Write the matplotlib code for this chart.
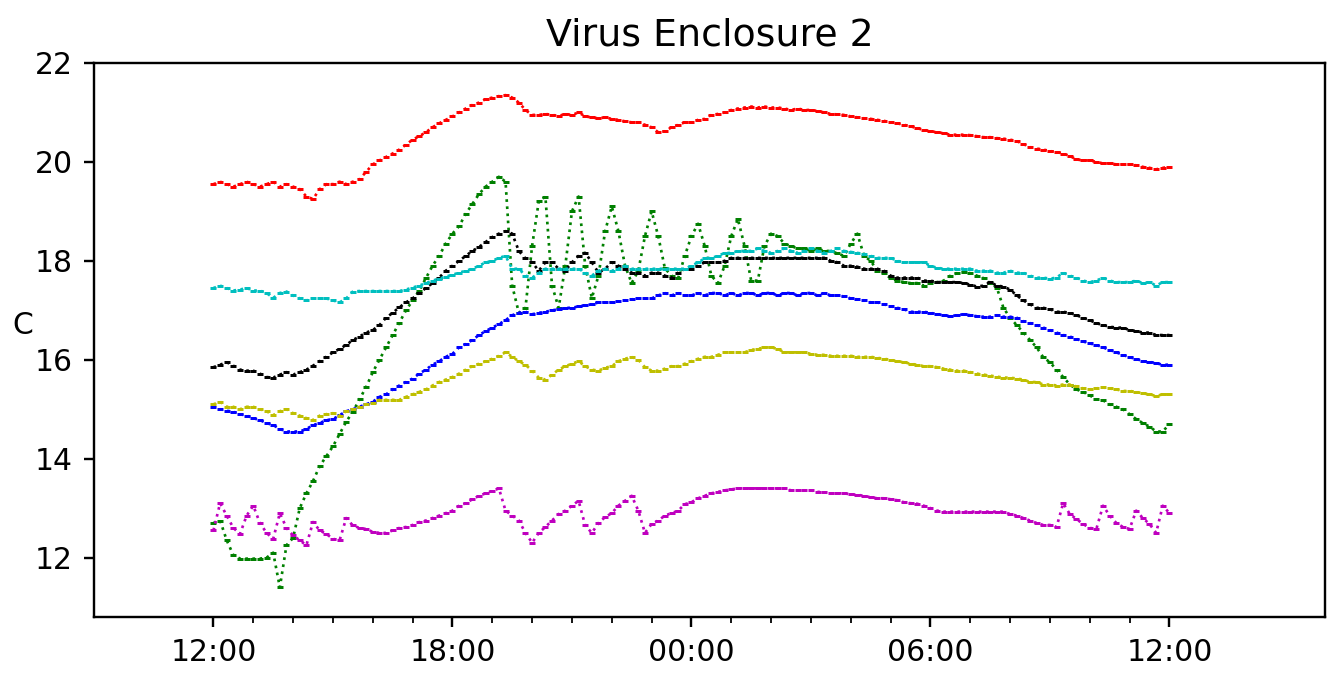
import matplotlib
matplotlib.use('Agg')
import matplotlib.pyplot as plt
import matplotlib.dates as mdates
import pandas as pd

# sample times: every 10 minutes from 12:00 to 12:00 next day
times = pd.date_range('2021-03-01 12:00', periods=145, freq='10min')

red = [19.55, 19.6, 19.55, 19.5, 19.55, 19.6,
       19.55, 19.5, 19.55, 19.6, 19.5, 19.55,
       19.5, 19.45, 19.3, 19.25, 19.45, 19.55,
       19.55, 19.6, 19.55, 19.6, 19.65, 19.8,
       19.95, 20.03, 20.1, 20.17, 20.25, 20.35,
       20.45, 20.52, 20.6, 20.7, 20.78, 20.85,
       20.92, 21.0, 21.08, 21.15, 21.2, 21.27,
       21.3, 21.33, 21.35, 21.3, 21.2, 21.05,
       20.95, 20.95, 20.97, 20.95, 20.93, 20.97,
       20.95, 21.0, 20.92, 20.9, 20.88, 20.9,
       20.87, 20.85, 20.82, 20.8, 20.8, 20.75,
       20.7, 20.6, 20.62, 20.7, 20.75, 20.8,
       20.8, 20.85, 20.87, 20.95, 20.97, 21.0,
       21.05, 21.08, 21.1, 21.12, 21.1, 21.12,
       21.1, 21.1, 21.08, 21.05, 21.08, 21.05,
       21.05, 21.03, 21.0, 20.97, 20.96, 20.95,
       20.92, 20.9, 20.88, 20.87, 20.85, 20.83,
       20.8, 20.78, 20.75, 20.72, 20.68, 20.65,
       20.62, 20.6, 20.58, 20.55, 20.55, 20.55,
       20.54, 20.52, 20.5, 20.5, 20.48, 20.47,
       20.45, 20.42, 20.36, 20.3, 20.27, 20.25,
       20.22, 20.2, 20.17, 20.12, 20.05, 20.03,
       20.03, 20.0, 19.97, 19.97, 19.95, 19.95,
       19.95, 19.93, 19.9, 19.88, 19.85, 19.88,
       19.9]

green = [12.7, 12.75, 12.35, 12.05, 11.98, 11.98,
         11.98, 11.98, 12.0, 12.1, 11.4, 12.25,
         12.4, 13.0, 13.3, 13.55, 13.85, 14.05,
         14.25, 14.5, 14.75, 14.95, 15.2, 15.45,
         15.75, 16.0, 16.25, 16.5, 16.75, 17.0,
         17.2, 17.4, 17.65, 17.9, 18.1, 18.35,
         18.55, 18.7, 18.95, 19.15, 19.35, 19.5,
         19.6, 19.7, 19.6, 17.5, 16.95, 17.05,
         18.3, 19.2, 19.3, 17.5, 17.05, 17.9,
         19.0, 19.3, 17.9, 17.25, 17.7, 18.6,
         19.1, 18.6, 17.9, 17.55, 17.8, 18.5,
         19.0, 18.5, 17.85, 17.7, 17.65, 18.1,
         18.5, 18.75, 18.3, 17.7, 17.55, 17.9,
         18.5, 18.85, 18.3, 17.6, 17.6, 18.3,
         18.55, 18.5, 18.35, 18.3, 18.25, 18.25,
         18.2, 18.25, 18.2, 18.2, 18.15, 18.1,
         18.35, 18.55, 18.1, 18.0, 17.8, 17.75,
         17.65, 17.6, 17.57, 17.55, 17.55, 17.5,
         17.55, 17.57, 17.6, 17.7, 17.75, 17.77,
         17.75, 17.7, 17.65, 17.55, 17.46, 17.05,
         16.85, 16.7, 16.55, 16.4, 16.25, 16.05,
         15.95, 15.8, 15.65, 15.5, 15.4, 15.35,
         15.28, 15.2, 15.18, 15.1, 15.05, 15.0,
         14.9, 14.8, 14.72, 14.65, 14.55, 14.55,
         14.7]

cyan = [17.45, 17.5, 17.45, 17.4, 17.42, 17.45,
        17.4, 17.4, 17.35, 17.25, 17.35, 17.38,
        17.3, 17.24, 17.2, 17.24, 17.24, 17.24,
        17.2, 17.16, 17.24, 17.38, 17.39, 17.39,
        17.39, 17.39, 17.39, 17.39, 17.39, 17.42,
        17.46, 17.5, 17.55, 17.6, 17.64, 17.68,
        17.72, 17.76, 17.8, 17.84, 17.9, 17.97,
        18.0, 18.06, 18.1, 17.84, 17.84, 17.7,
        17.66, 17.75, 17.84, 17.84, 17.84, 17.84,
        17.84, 17.84, 17.76, 17.7, 17.8, 17.84,
        17.8, 17.84, 17.9, 17.84, 17.84, 17.84,
        17.84, 17.84, 17.84, 17.84, 17.84, 17.84,
        17.9, 17.97, 18.05, 18.06, 18.1, 18.16,
        18.16, 18.2, 18.2, 18.2, 18.25, 18.2,
        18.16, 18.2, 18.25, 18.2, 18.16, 18.2,
        18.25, 18.2, 18.16, 18.2, 18.25, 18.2,
        18.18, 18.16, 18.14, 18.1, 18.06, 18.06,
        18.06, 18.0, 17.97, 17.97, 17.97, 17.97,
        17.9, 17.86, 17.84, 17.84, 17.84, 17.84,
        17.84, 17.8, 17.8, 17.8, 17.76, 17.76,
        17.8, 17.76, 17.76, 17.7, 17.66, 17.66,
        17.64, 17.66, 17.76, 17.7, 17.66, 17.6,
        17.57, 17.6, 17.66, 17.6, 17.57, 17.57,
        17.57, 17.6, 17.55, 17.57, 17.5, 17.57,
        17.57]

black = [15.85, 15.9, 15.95, 15.88, 15.8, 15.78,
         15.78, 15.72, 15.65, 15.64, 15.7, 15.75,
         15.7, 15.75, 15.8, 15.88, 15.97, 16.06,
         16.15, 16.22, 16.3, 16.4, 16.47, 16.55,
         16.6, 16.7, 16.85, 16.95, 17.06, 17.16,
         17.24, 17.35, 17.45, 17.55, 17.66, 17.8,
         17.9, 18.0, 18.1, 18.2, 18.28, 18.38,
         18.48, 18.55, 18.6, 18.55, 18.2, 18.05,
         17.97, 17.8, 17.97, 17.97, 17.84, 17.8,
         17.97, 18.1, 18.16, 17.97, 17.76, 17.84,
         17.97, 17.9, 17.84, 17.76, 17.76, 17.7,
         17.76, 17.76, 17.7, 17.66, 17.76, 17.84,
         17.84, 17.9, 17.97, 17.97, 17.97, 18.0,
         18.06, 18.06, 18.06, 18.06, 18.06, 18.06,
         18.06, 18.06, 18.06, 18.06, 18.06, 18.06,
         18.06, 18.06, 18.06, 18.0, 17.97, 17.9,
         17.9, 17.88, 17.84, 17.84, 17.84, 17.8,
         17.7, 17.66, 17.66, 17.66, 17.66, 17.6,
         17.6, 17.57, 17.57, 17.57, 17.57, 17.55,
         17.52, 17.48, 17.5, 17.57, 17.5, 17.48,
         17.42, 17.3, 17.2, 17.12, 17.05, 17.05,
         17.02, 16.97, 16.97, 16.95, 16.9, 16.85,
         16.8, 16.74, 16.7, 16.67, 16.65, 16.65,
         16.6, 16.58, 16.55, 16.55, 16.5, 16.5,
         16.5]

blue = [15.05, 15.0, 14.97, 14.95, 14.9, 14.87,
        14.82, 14.78, 14.72, 14.68, 14.6, 14.55,
        14.55, 14.55, 14.6, 14.68, 14.72, 14.78,
        14.8, 14.88, 14.96, 15.0, 15.05, 15.1,
        15.15, 15.25, 15.3, 15.4, 15.48, 15.55,
        15.62, 15.72, 15.8, 15.9, 15.97, 16.06,
        16.12, 16.25, 16.32, 16.4, 16.5, 16.58,
        16.65, 16.72, 16.8, 16.9, 16.95, 16.97,
        16.92, 16.95, 16.97, 17.0, 17.02, 17.05,
        17.05, 17.08, 17.1, 17.12, 17.16, 17.16,
        17.16, 17.18, 17.2, 17.22, 17.24, 17.24,
        17.24, 17.3, 17.35, 17.3, 17.35, 17.3,
        17.3, 17.35, 17.3, 17.35, 17.35, 17.3,
        17.35, 17.3, 17.35, 17.35, 17.3, 17.35,
        17.35, 17.3, 17.35, 17.35, 17.3, 17.35,
        17.35, 17.3, 17.35, 17.3, 17.3, 17.28,
        17.24, 17.22, 17.2, 17.16, 17.16, 17.12,
        17.08, 17.05, 17.02, 16.97, 16.97, 16.97,
        16.95, 16.92, 16.9, 16.88, 16.9, 16.92,
        16.9, 16.88, 16.87, 16.87, 16.9, 16.87,
        16.87, 16.85, 16.78, 16.74, 16.7, 16.65,
        16.6, 16.55, 16.5, 16.47, 16.42, 16.37,
        16.33, 16.3, 16.25, 16.2, 16.15, 16.1,
        16.05, 16.02, 15.97, 15.96, 15.93, 15.9,
        15.9]

yellow = [15.1, 15.15, 15.05, 15.05, 15.0, 15.05,
          15.05, 15.0, 14.96, 14.88, 14.96, 15.0,
          14.92, 14.87, 14.82, 14.78, 14.87, 14.9,
          14.92, 14.87, 14.96, 15.0, 15.05, 15.1,
          15.12, 15.19, 15.19, 15.19, 15.19, 15.25,
          15.3, 15.35, 15.4, 15.48, 15.55, 15.6,
          15.65, 15.72, 15.8, 15.87, 15.92, 15.97,
          16.02, 16.08, 16.15, 16.06, 15.97, 15.9,
          15.78, 15.64, 15.6, 15.7, 15.8, 15.87,
          15.92, 15.97, 15.87, 15.8, 15.78, 15.84,
          15.87, 15.97, 16.02, 16.06, 16.0, 15.85,
          15.78, 15.78, 15.82, 15.87, 15.87, 15.92,
          15.97, 16.02, 16.06, 16.06, 16.1, 16.15,
          16.15, 16.15, 16.15, 16.2, 16.22, 16.25,
          16.25, 16.22, 16.15, 16.15, 16.15, 16.15,
          16.12, 16.1, 16.1, 16.08, 16.08, 16.08,
          16.08, 16.06, 16.06, 16.06, 16.04, 16.02,
          16.0, 15.97, 15.95, 15.92, 15.9, 15.87,
          15.87, 15.85, 15.82, 15.8, 15.78, 15.78,
          15.75, 15.72, 15.7, 15.68, 15.66, 15.64,
          15.64, 15.62, 15.6, 15.55, 15.55, 15.5,
          15.5, 15.48, 15.5, 15.5, 15.46, 15.42,
          15.4, 15.42, 15.44, 15.42, 15.4, 15.37,
          15.37, 15.35, 15.32, 15.3, 15.27, 15.3,
          15.3]

magenta = [12.55, 13.1, 12.85, 12.6, 12.48, 12.85,
           13.05, 12.7, 12.5, 12.38, 12.9, 12.6,
           12.45, 12.35, 12.25, 12.72, 12.55, 12.48,
           12.38, 12.35, 12.8, 12.65, 12.6, 12.58,
           12.52, 12.5, 12.5, 12.55, 12.6, 12.62,
           12.66, 12.72, 12.75, 12.8, 12.85, 12.9,
           12.95, 13.05, 13.1, 13.18, 13.25, 13.3,
           13.35, 13.4, 12.95, 12.85, 12.75, 12.5,
           12.3, 12.5, 12.62, 12.75, 12.88, 12.95,
           13.05, 13.15, 12.65, 12.5, 12.7, 12.82,
           12.9, 13.05, 13.15, 13.25, 12.95, 12.5,
           12.68, 12.75, 12.85, 12.9, 12.95, 13.08,
           13.12, 13.2, 13.25, 13.3, 13.33, 13.36,
           13.38, 13.4, 13.4, 13.4, 13.4, 13.4,
           13.4, 13.4, 13.4, 13.36, 13.36, 13.36,
           13.36, 13.33, 13.32, 13.3, 13.3, 13.3,
           13.28, 13.27, 13.25, 13.22, 13.2, 13.2,
           13.18, 13.16, 13.12, 13.1, 13.09, 13.05,
           13.0, 12.95, 12.93, 12.93, 12.93, 12.93,
           12.93, 12.93, 12.93, 12.93, 12.93, 12.93,
           12.88, 12.85, 12.8, 12.75, 12.7, 12.66,
           12.66, 12.62, 13.1, 12.88, 12.78, 12.68,
           12.6, 12.58, 13.05, 12.85, 12.7, 12.62,
           12.58, 12.95, 12.8, 12.68, 12.5, 13.05,
           12.9]

series = [(red, 'r'), (green, 'g'), (black, 'k'), (cyan, 'c'),
          (blue, 'b'), (yellow, 'y'), (magenta, 'm')]

fig = plt.figure(figsize=(1329 / 215, 673 / 215), dpi=215)
ax = fig.add_axes([0.0707, 0.0832, 0.9266, 0.8232])

for vals, col in series:
    # dotted trace plus a short dash at every sample
    ax.plot(times, vals, color=col, ls=':', lw=0.9,
            marker='_', ms=2.0, mew=1.0)

ax.set_title('Virus Enclosure 2', fontsize=12.7)
ax.set_ylabel('C', rotation=0)
ax.set_ylim(10.8, 22)
ax.set_yticks([12, 14, 16, 18, 20, 22])

ax.set_xlim(pd.Timestamp('2021-03-01 09:00'), pd.Timestamp('2021-03-02 15:55'))
ax.set_xticks(pd.date_range('2021-03-01 12:00', '2021-03-02 12:00', freq='6h'))
ax.set_xticks(pd.date_range('2021-03-01 12:00', '2021-03-02 12:00', freq='1h'), minor=True)
ax.xaxis.set_major_formatter(mdates.DateFormatter('%H:%M'))

fig.savefig('out.png', dpi=215)
